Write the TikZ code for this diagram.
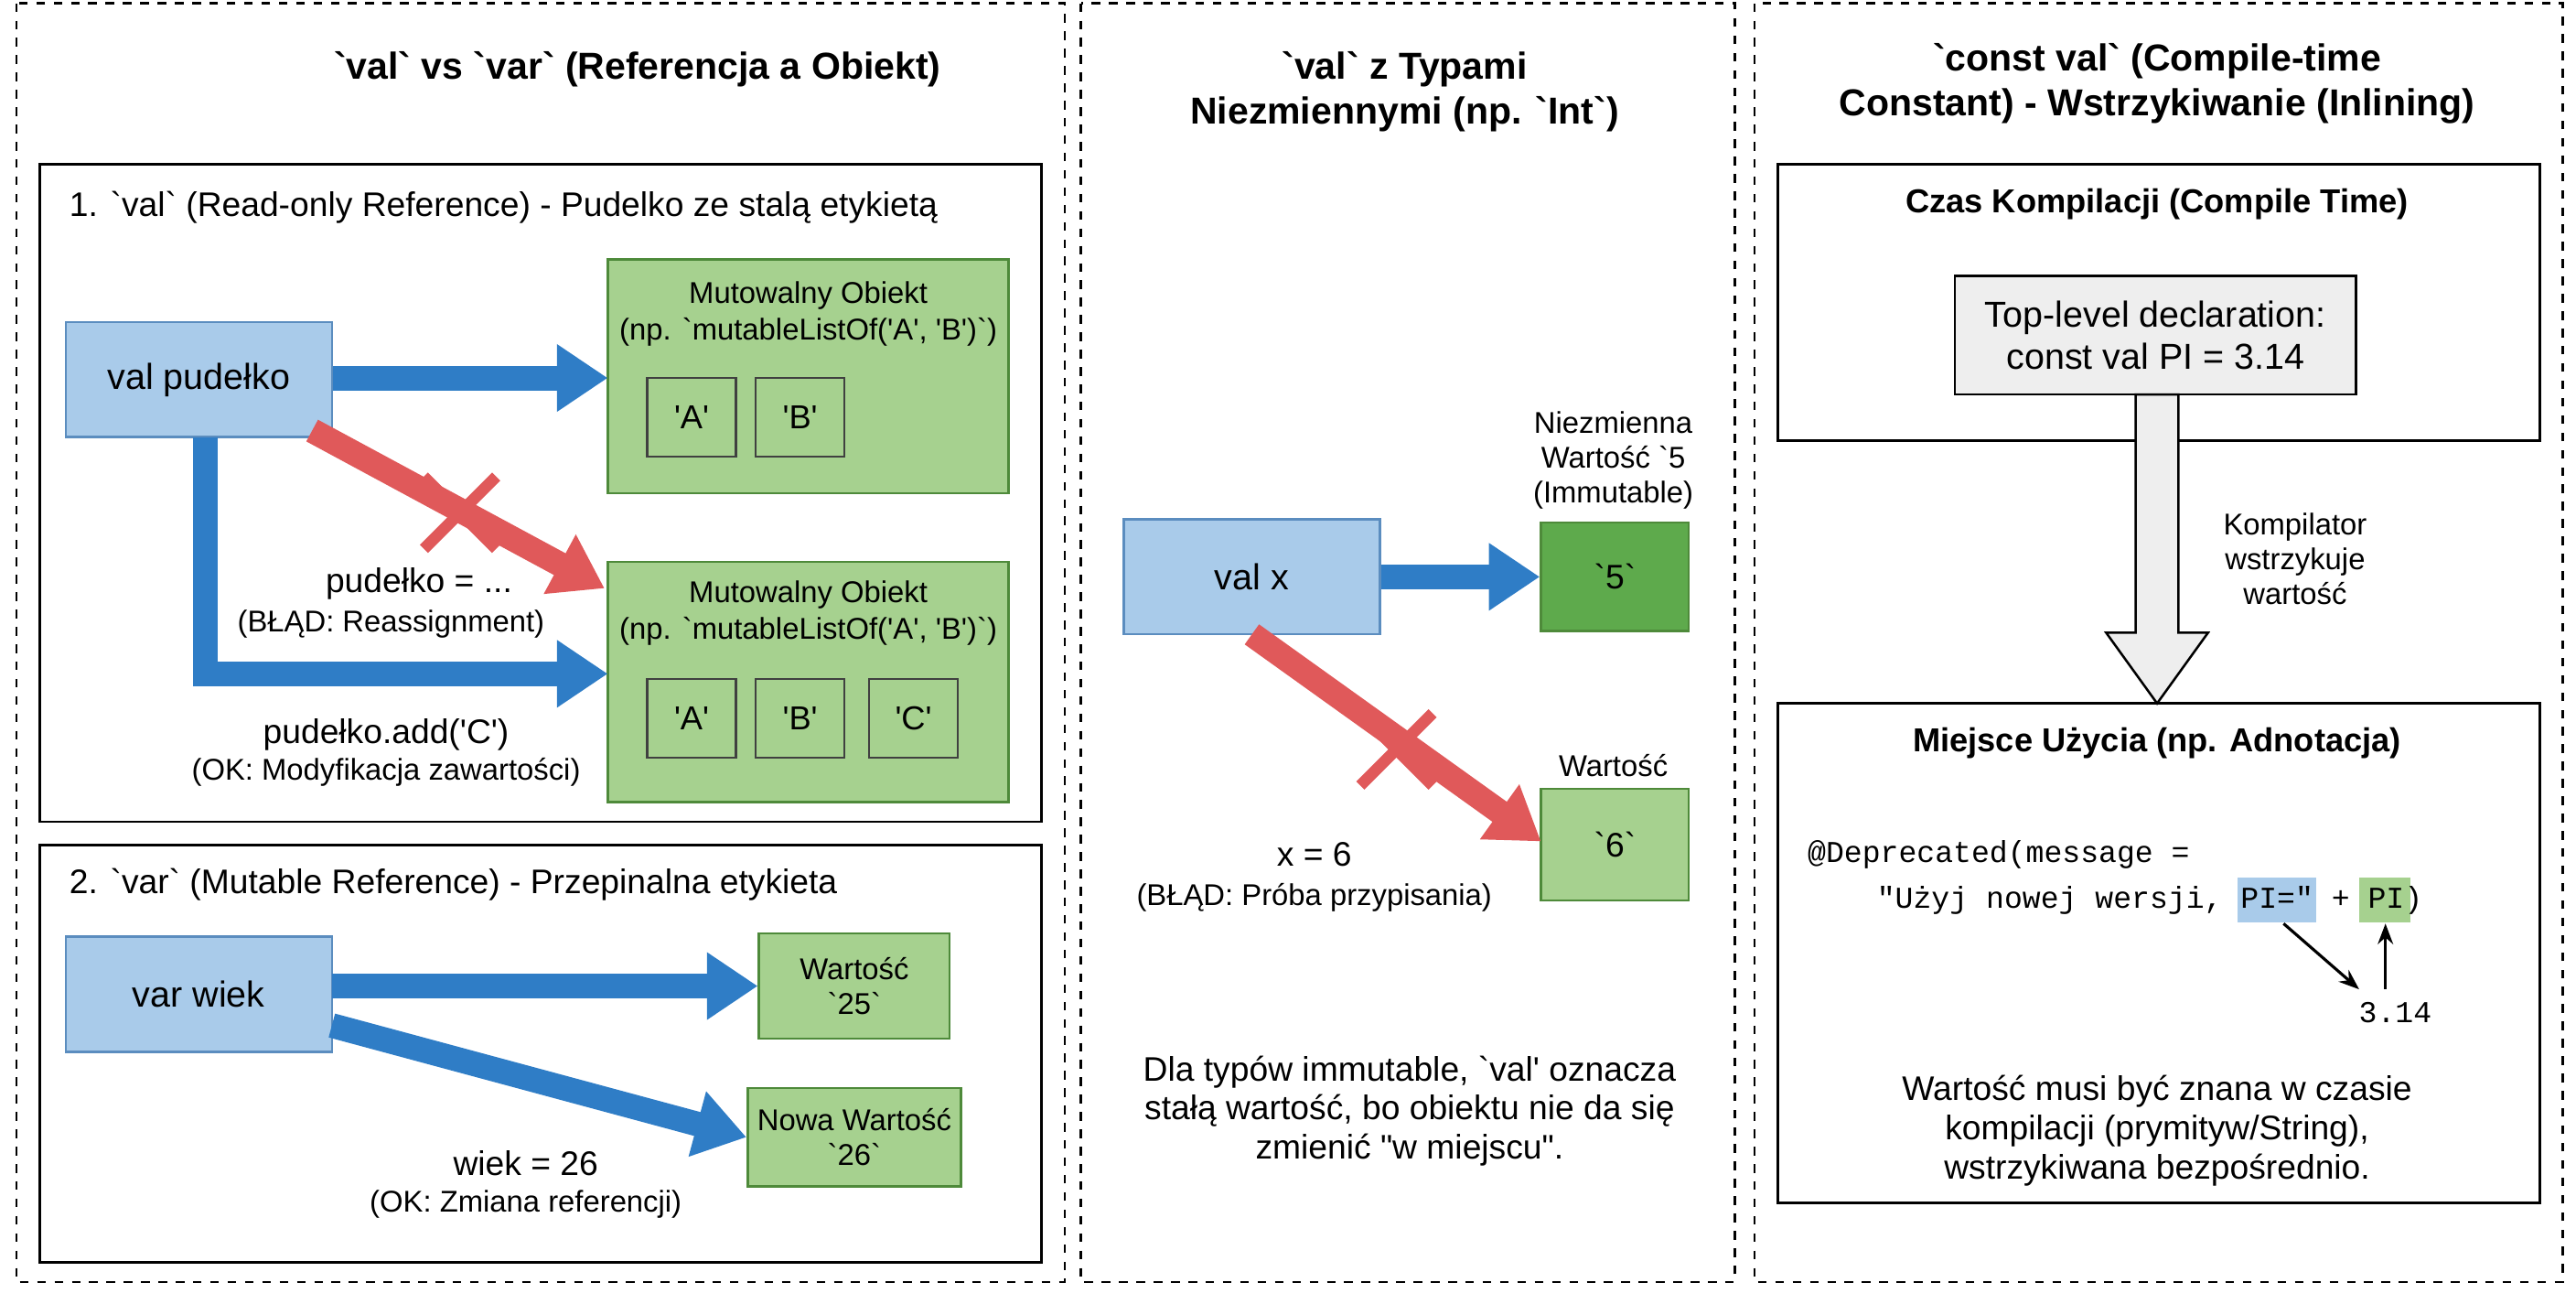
\documentclass[tikz,border=0pt]{standalone}
\usepackage{fontspec}
\setmainfont{Liberation Sans}[Ligatures=TeXOff]
\setmonofont{Liberation Mono}[Ligatures=TeXOff]
\usetikzlibrary{arrows.meta}
\definecolor{bfill}{HTML}{A9CBEA}
\definecolor{bdraw}{HTML}{5B8DBF}
\definecolor{gfill}{HTML}{A6D18F}
\definecolor{gdraw}{HTML}{4E8A3A}
\definecolor{dgfill}{HTML}{5EAA4C}
\definecolor{barrow}{HTML}{2F7DC6}
\definecolor{rarrow}{HTML}{E0595A}
\definecolor{gbox}{HTML}{EEEEEE}
\begin{document}
\begin{tikzpicture}[x=0.02cm,y=-0.02cm,
 panel/.style={draw,dashed,line width=0.8pt},
 frame/.style={draw,line width=0.9pt},
 blue/.style={draw=bdraw,fill=bfill,line width=0.8pt,font=\fontsize{12.5}{14}\selectfont},
 green/.style={draw=gdraw,fill=gfill,line width=0.8pt},
 inner/.style={draw=black!75,fill=gfill,line width=0.7pt,minimum width=54*0.02cm,minimum height=48*0.02cm,font=\fontsize{11.5}{13}\selectfont},
 title/.style={font=\bfseries\fontsize{13}{15.5}\selectfont,align=center},
 lab/.style={font=\fontsize{11.8}{13.5}\selectfont,align=center},
 sm/.style={font=\fontsize{10.4}{12}\selectfont,align=center},
 barr/.style={draw=barrow,line width=0.3cm,-{Triangle[length=0.62cm,width=0.78cm]}},
 rarr/.style={draw=rarrow,line width=0.3cm,-{Triangle[length=0.62cm,width=0.78cm]}},
 cross/.style={draw=rarrow,line width=0.14cm},
 thin/.style={-{Stealth[length=0.25cm]},line width=1pt}]
\useasboundingbox (0,0) rectangle (1568,793);
% panels
\draw[panel] (10,2) rectangle (648,780);
\draw[panel] (658,2) rectangle (1056,780);
\draw[panel] (1068,2) rectangle (1560,780);
%% Panel 1
\node[title] (t1) at (388,42) {`val` vs `var` (Referencja a Obiekt)};
\draw[frame] (24,100) rectangle (634,500);
\node[lab,anchor=west] (l1) at (36,126) {1. `val` (Read-only Reference) - Pudelko ze stalą etykietą};
\node[blue,minimum width=162*0.02cm,minimum height=70*0.02cm] (vp) at (121,231) {val pudełko};
\path[green] (370,158) rectangle (614,300);
\node[sm] (o1a) at (492,180) {Mutowalny Obiekt};
\node[sm] (o1b) at (492,202) {(np. `mutableListOf('A', 'B')`)};
\node[inner] (a1) at (421,254) {'A'};
\node[inner] (b1) at (487,254) {'B'};
\coordinate (o1) at (370,230);
\path[green] (370,342) rectangle (614,488);
\node[sm] (o2a) at (492,362) {Mutowalny Obiekt};
\node[sm] (o2b) at (492,384) {(np. `mutableListOf('A', 'B')`)};
\node[inner] (a2) at (421,437) {'A'};
\node[inner] (b2) at (487,437) {'B'};
\node[inner] (c2) at (556,437) {'C'};
\coordinate (o2) at (370,410);
\coordinate (o2r) at (368,358);
\coordinate (vpb) at (125,266);
\coordinate (vpr) at (190,262);
\draw[barr] (vp.east|-o1) -- (o1);
\draw[barr] (vpb) -- (125,410) -- (o2);
\draw[rarr] (vpr) -- (o2r);
\draw[cross] (258,290) -- (302,334);
\draw[cross] (302,290) -- (258,334);
\node[lab] (p1) at (255,355) {pudełko = ...};
\node[sm] (p2) at (238,380) {(BŁĄD: Reassignment)};
\node[lab] (p3) at (235,447) {pudełko.add('C')};
\node[sm] (p4) at (235,470) {(OK: Modyfikacja zawartości)};
% box 2
\draw[frame] (24,514) rectangle (634,768);
\node[lab,anchor=west] (l2) at (36,538) {2. `var` (Mutable Reference) - Przepinalna etykieta};
\node[blue,minimum width=162*0.02cm,minimum height=70*0.02cm] (vw) at (121,605) {var wiek};
\node[green,minimum width=116*0.02cm,minimum height=64*0.02cm,sm] (w25) at (520,600) {Wartość\\`25`};
\node[green,minimum width=116*0.02cm,minimum height=60*0.02cm,sm] (w26) at (520,692) {Nowa Wartość\\`26`};
\draw[barr] (202,600) -- (w25.west);
\draw[barr] (202,624) -- (w26.west);
\node[lab] (wl1) at (320,708) {wiek = 26};
\node[sm] (wl2) at (320,733) {(OK: Zmiana referencji)};
%% Panel 2
\node[title] (t2) at (855,56) {`val` z Typami\\Niezmiennymi (np. `Int`)};
\node[blue,minimum width=156*0.02cm,minimum height=70*0.02cm] (vx) at (762,351) {val x};
\node[draw=gdraw,fill=dgfill,line width=0.8pt,minimum width=90*0.02cm,minimum height=66*0.02cm,lab] (v5) at (983,351) {`5`};
\node[sm] (v5l) at (982,280) {Niezmienna\\Wartość `5\\(Immutable)};
\node[green,minimum width=90*0.02cm,minimum height=68*0.02cm,lab] (v6) at (983,514) {`6`};
\node[sm] (v6l) at (982,466) {Wartość};
\draw[barr] (vx.east) -- (v5.west);
\draw[rarr] (762,386) -- (938,512);
\draw[cross] (828,434) -- (872,478);
\draw[cross] (872,434) -- (828,478);
\node[lab] (x1) at (800,520) {x = 6};
\node[sm] (x2) at (800,546) {(BŁĄD: Próba przypisania)};
\node[lab] (b2t) at (858,676) {Dla typów immutable, `val' oznacza\\stałą wartość, bo obiektu nie da się\\zmienić "w miejscu".};
%% Panel 3
\node[title] (t3) at (1313,51) {`const val` (Compile-time\\Constant) - Wstrzykiwanie (Inlining)};
\draw[frame] (1082,100) rectangle (1546,268);
\node[title,font=\bfseries\fontsize{11.5}{13}\selectfont] (ck) at (1313,124) {Czas Kompilacji (Compile Time)};
\node[draw,fill=gbox,line width=0.8pt,minimum width=244*0.02cm,minimum height=72*0.02cm,lab,font=\fontsize{12.5}{14.5}\selectfont] (decl) at (1312,204) {Top-level declaration:\\const val PI = 3.14};
\draw[fill=gbox,line width=0.8pt] (1300,240) -- (1326,240) -- (1326,385) -- (1344,385) -- (1313,428) -- (1282,385) -- (1300,385) -- cycle;
\node[sm] (kl) at (1397,340) {Kompilator\\wstrzykuje\\wartość};
\draw[frame] (1082,428) rectangle (1546,732);
\node[title,font=\bfseries\fontsize{11.5}{13}\selectfont] (mu) at (1313,452) {Miejsce Użycia (np. Adnotacja)};
\fill[bfill] (1362,534) rectangle (1410,561);
\fill[gfill] (1436,534) rectangle (1467,561);
\node[anchor=west,font=\ttfamily\fontsize{10.5}{12}\selectfont,inner sep=0] (c1) at (1100,520) {@Deprecated(message =};
\node[anchor=west,font=\ttfamily\fontsize{10.5}{12}\selectfont,inner sep=0] (c2) at (1120,548) {\ \ "Użyj nowej wersji, PI=" + PI)};
\node[font=\ttfamily\fontsize{10.5}{12}\selectfont] (v314) at (1458,616) {3.14};
\coordinate (pa) at (1390,562);
\coordinate (pb) at (1452,562);
\draw[thin] (pa) -- (1436,602);
\draw[thin] (1452,602) -- (pb);
\node[lab] (bt3) at (1313,688) {Wartość musi być znana w czasie\\kompilacji (prymityw/String),\\wstrzykiwana bezpośrednio.};
\end{tikzpicture}
\end{document}
